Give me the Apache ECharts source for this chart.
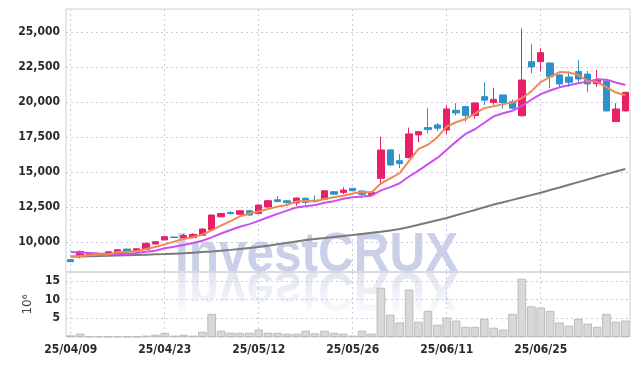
<!DOCTYPE html>
<html><head><meta charset="utf-8">
<script src="https://cdn.jsdelivr.net/npm/echarts@6/dist/echarts.min.js"></script>
<style>html,body{margin:0;padding:0;background:#fff}#c{width:639px;height:366px}</style>
</head><body><div id="c"></div>
<script>
const dates = ['25/04/09','25/04/10','25/04/11','25/04/14','25/04/15','25/04/16','25/04/17','25/04/18','25/04/21','25/04/22',
'25/04/23','25/04/24','25/04/25','25/04/28','25/04/29','25/04/30','25/05/02','25/05/07','25/05/08','25/05/09',
'25/05/12','25/05/13','25/05/14','25/05/15','25/05/16','25/05/19','25/05/20','25/05/21','25/05/22','25/05/23',
'25/05/26','25/05/27','25/05/28','25/05/29','25/05/30','25/06/02','25/06/04','25/06/05','25/06/09','25/06/10',
'25/06/11','25/06/12','25/06/13','25/06/16','25/06/17','25/06/18','25/06/19','25/06/20','25/06/23','25/06/24',
'25/06/25','25/06/26','25/06/27','25/06/30','25/07/01','25/07/02','25/07/03','25/07/04','25/07/07','25/07/08'];
const opens = [8760,9000,9120,9150,9150,9310,9520,9380,9500,9880,
10170,10380,10310,10330,10500,10900,11820,12120,12000,12250,
12050,12520,13040,12960,12810,13150,13000,13080,13610,13550,
13850,13660,13400,14570,16600,15830,16050,17670,18190,18380,
18020,19430,19690,19050,20400,19980,20520,20040,19040,22900,
22900,22800,21950,21800,22190,22010,21330,21520,18620,19380];
const closes = [8620,9350,9230,9170,9320,9470,9360,9540,9930,10040,
10400,10340,10480,10570,10950,11950,12060,12060,12250,11950,
12660,12970,12920,12840,13160,12850,12920,13680,13440,13730,
13680,13430,13570,16590,15520,15620,17740,17900,18050,18150,
19520,19240,19050,19950,20150,20210,19980,19580,21590,22520,
23540,21830,21310,21430,21660,21310,21590,19380,19520,20710];
const lows = [8580,8860,9080,9130,9130,9290,9340,9360,9480,9860,
10150,10320,10280,10310,10480,10830,11790,11980,11980,11860,
12030,12500,12860,12750,12610,12640,12830,13060,13380,13450,
13640,13150,13380,14090,15450,15300,16000,17140,17790,17950,
17720,19050,18620,18810,19810,19800,19570,19500,18950,22070,
22190,21000,21070,21100,21450,20720,21100,19350,18600,19350];
const highs = [8800,9400,9260,9200,9350,9500,9540,9570,9960,10080,
10430,10400,10600,10640,10990,11980,12090,12220,12280,12330,
12700,13000,13300,13020,13200,13180,13350,13710,13650,13930,
13880,13700,13600,17540,16650,16300,18190,17950,19570,18520,
19760,19930,19750,19990,21430,21040,20540,20200,25270,24140,
23860,22850,22000,22190,23020,22240,22310,21550,19930,20750];
const ma5 = [8980,9020,9080,9130,9138,9308,9310,9372,9524,9668,
9854,10050,10238,10366,10548,10858,11202,11518,11854,12054,
12196,12378,12550,12668,12910,12948,12938,13090,13210,13324,
13490,13592,13570,14200,14558,14946,15808,16674,16966,17492,
18272,18572,18802,19182,19582,19720,19868,19974,20302,20776,
21442,21812,22158,22126,21954,21508,21460,21074,20692,20502];
const ma10 = [9307,9280,9236,9200,9180,9164,9164,9236,9330,9403,
9581,9680,9805,9945,10108,10356,10626,10878,11110,11301,
11527,11790,12034,12261,12482,12572,12658,12820,12939,13117,
13219,13265,13330,13705,13941,14218,14700,15122,15583,16025,
16609,17190,17738,18074,18537,18996,19220,19388,19742,20179,
20581,20840,21066,21214,21365,21475,21636,21616,21409,21228];
const maLong = [8970,8985,9000,9020,9040,9060,9080,9100,9120,9140,
9160,9190,9220,9260,9300,9340,9400,9460,9530,9600,
9660,9760,9860,9960,10060,10160,10230,10300,10380,10450,
10520,10600,10680,10760,10850,10950,11100,11250,11420,11580,
11740,11930,12120,12310,12500,12700,12860,13030,13200,13370,
13540,13730,13920,14110,14300,14490,14680,14870,15060,15240];
const volumes = [0.45,0.9,0.2,0.2,0.15,0.2,0.2,0.05,0.37,0.63,
1.05,0.37,0.63,0.37,1.4,6.2,1.7,1.15,1.15,1.15,
2.0,1.15,1.15,0.9,0.9,1.7,1.0,1.7,1.15,0.9,
0.37,1.7,0.9,13.2,6.0,3.9,12.7,4.1,7.0,3.3,
5.2,4.4,2.75,2.75,4.9,2.5,2.0,6.2,15.6,8.2,
7.9,7.0,3.9,3.05,4.9,3.6,2.75,6.2,4.1,4.4];
const priceTicks = [10000,12500,15000,17500,20000,22500,25000];
const volumeTicks = [5,10,15];

const candleData = opens.map((o, i) => [o, closes[i], lows[i], highs[i]]);
const UP = '#e8206a', DOWN = '#2e92c8';
const labelFont = { fontFamily: 'DejaVu Sans Condensed', fontWeight: 'bold', fontSize: 12, color: '#2a2a2a' };
const gridLine = { show: true, lineStyle: { color: '#c9cbe0', type: [2, 3], width: 1 } };
const WM = 'rgba(156,170,212,0.55)';

const chart = echarts.init(document.getElementById('c'), null, { renderer: 'canvas' });
chart.setOption({
  animation: false,
  backgroundColor: '#fff',
  grid: [
    { left: 66, right: 9, top: 9, height: 263, show: true, borderColor: '#d0d0d0', borderWidth: 1 },
    { left: 66, right: 9, top: 272, height: 65, show: true, borderColor: '#d0d0d0', borderWidth: 1 }
  ],
  xAxis: [
    { type: 'category', gridIndex: 0, data: dates, boundaryGap: true,
      axisLine: { show: false }, axisTick: { show: false }, axisLabel: { show: false },
      splitLine: Object.assign({ interval: 9, alignWithLabel: true }, gridLine) },
    { type: 'category', gridIndex: 1, data: dates, boundaryGap: true,
      axisLine: { show: false }, axisTick: { show: false },
      axisLabel: Object.assign({ interval: 9, margin: 7 }, labelFont),
      splitLine: Object.assign({ interval: 9, alignWithLabel: true }, gridLine) }
  ],
  yAxis: [
    { type: 'value', gridIndex: 0, min: 7880, max: 26660,
      axisLine: { show: false }, axisTick: { show: false, customValues: priceTicks },
      axisLabel: Object.assign({ customValues: priceTicks, margin: 6,
        formatter: v => v.toLocaleString('en-US') }, labelFont),
      splitLine: gridLine },
    { type: 'value', gridIndex: 1, min: 0, max: 17.4,
      axisLine: { show: false }, axisTick: { show: false, customValues: volumeTicks },
      axisLabel: Object.assign({ customValues: volumeTicks, margin: 6 }, labelFont),
      splitLine: gridLine,
      name: '10⁶', nameLocation: 'middle', nameRotate: 90, nameGap: 24,
      nameTextStyle: { fontFamily: 'DejaVu Sans', fontSize: 12, color: '#444' } }
  ],
  graphic: [
    { type: 'text', x: 175, y: 272, scaleX: 0.9, z: -10, silent: true,
      style: { x: 0, y: -16, text: 'InvestCRUX', font: 'bold 55px "Liberation Sans"',
        fill: WM, verticalAlign: 'middle', align: 'left' } },
    { type: 'text', x: 175, y: 272, scaleX: 0.9, scaleY: -1, z: -10, silent: true,
      style: { x: 0, y: -16, text: 'InvestCRUX', font: 'bold 55px "Liberation Sans"',
        fill: 'rgba(156,170,212,0.32)', verticalAlign: 'middle', align: 'left' } },
    { type: 'rect', z: -9, silent: true,
      shape: { x: 150, y: 273, width: 340, height: 48 },
      style: { fill: new echarts.graphic.LinearGradient(0, 0, 0, 1, [
        { offset: 0, color: 'rgba(255,255,255,0.05)' },
        { offset: 1, color: 'rgba(255,255,255,1)' }]) } }
  ],
  series: [
    { type: 'candlestick', xAxisIndex: 0, yAxisIndex: 0, data: candleData, barWidth: '72%',
      itemStyle: { color: UP, color0: DOWN, borderColor: UP, borderColor0: DOWN, borderWidth: 1 }, z: 2 },
    { type: 'line', xAxisIndex: 0, yAxisIndex: 0, data: maLong, showSymbol: false,
      lineStyle: { color: '#7a7a7a', width: 2 }, z: 3 },
    { type: 'line', xAxisIndex: 0, yAxisIndex: 0, data: ma10, showSymbol: false,
      lineStyle: { color: '#cc4ff0', width: 2 }, z: 3 },
    { type: 'line', xAxisIndex: 0, yAxisIndex: 0, data: ma5, showSymbol: false,
      lineStyle: { color: '#f08a55', width: 2 }, z: 3 },
    { type: 'bar', xAxisIndex: 1, yAxisIndex: 1, data: volumes, barCategoryGap: '8%',
      itemStyle: { color: '#d8d8d8', borderColor: '#bcbcbc', borderWidth: 1 } }
  ]
});
</script></body></html>
